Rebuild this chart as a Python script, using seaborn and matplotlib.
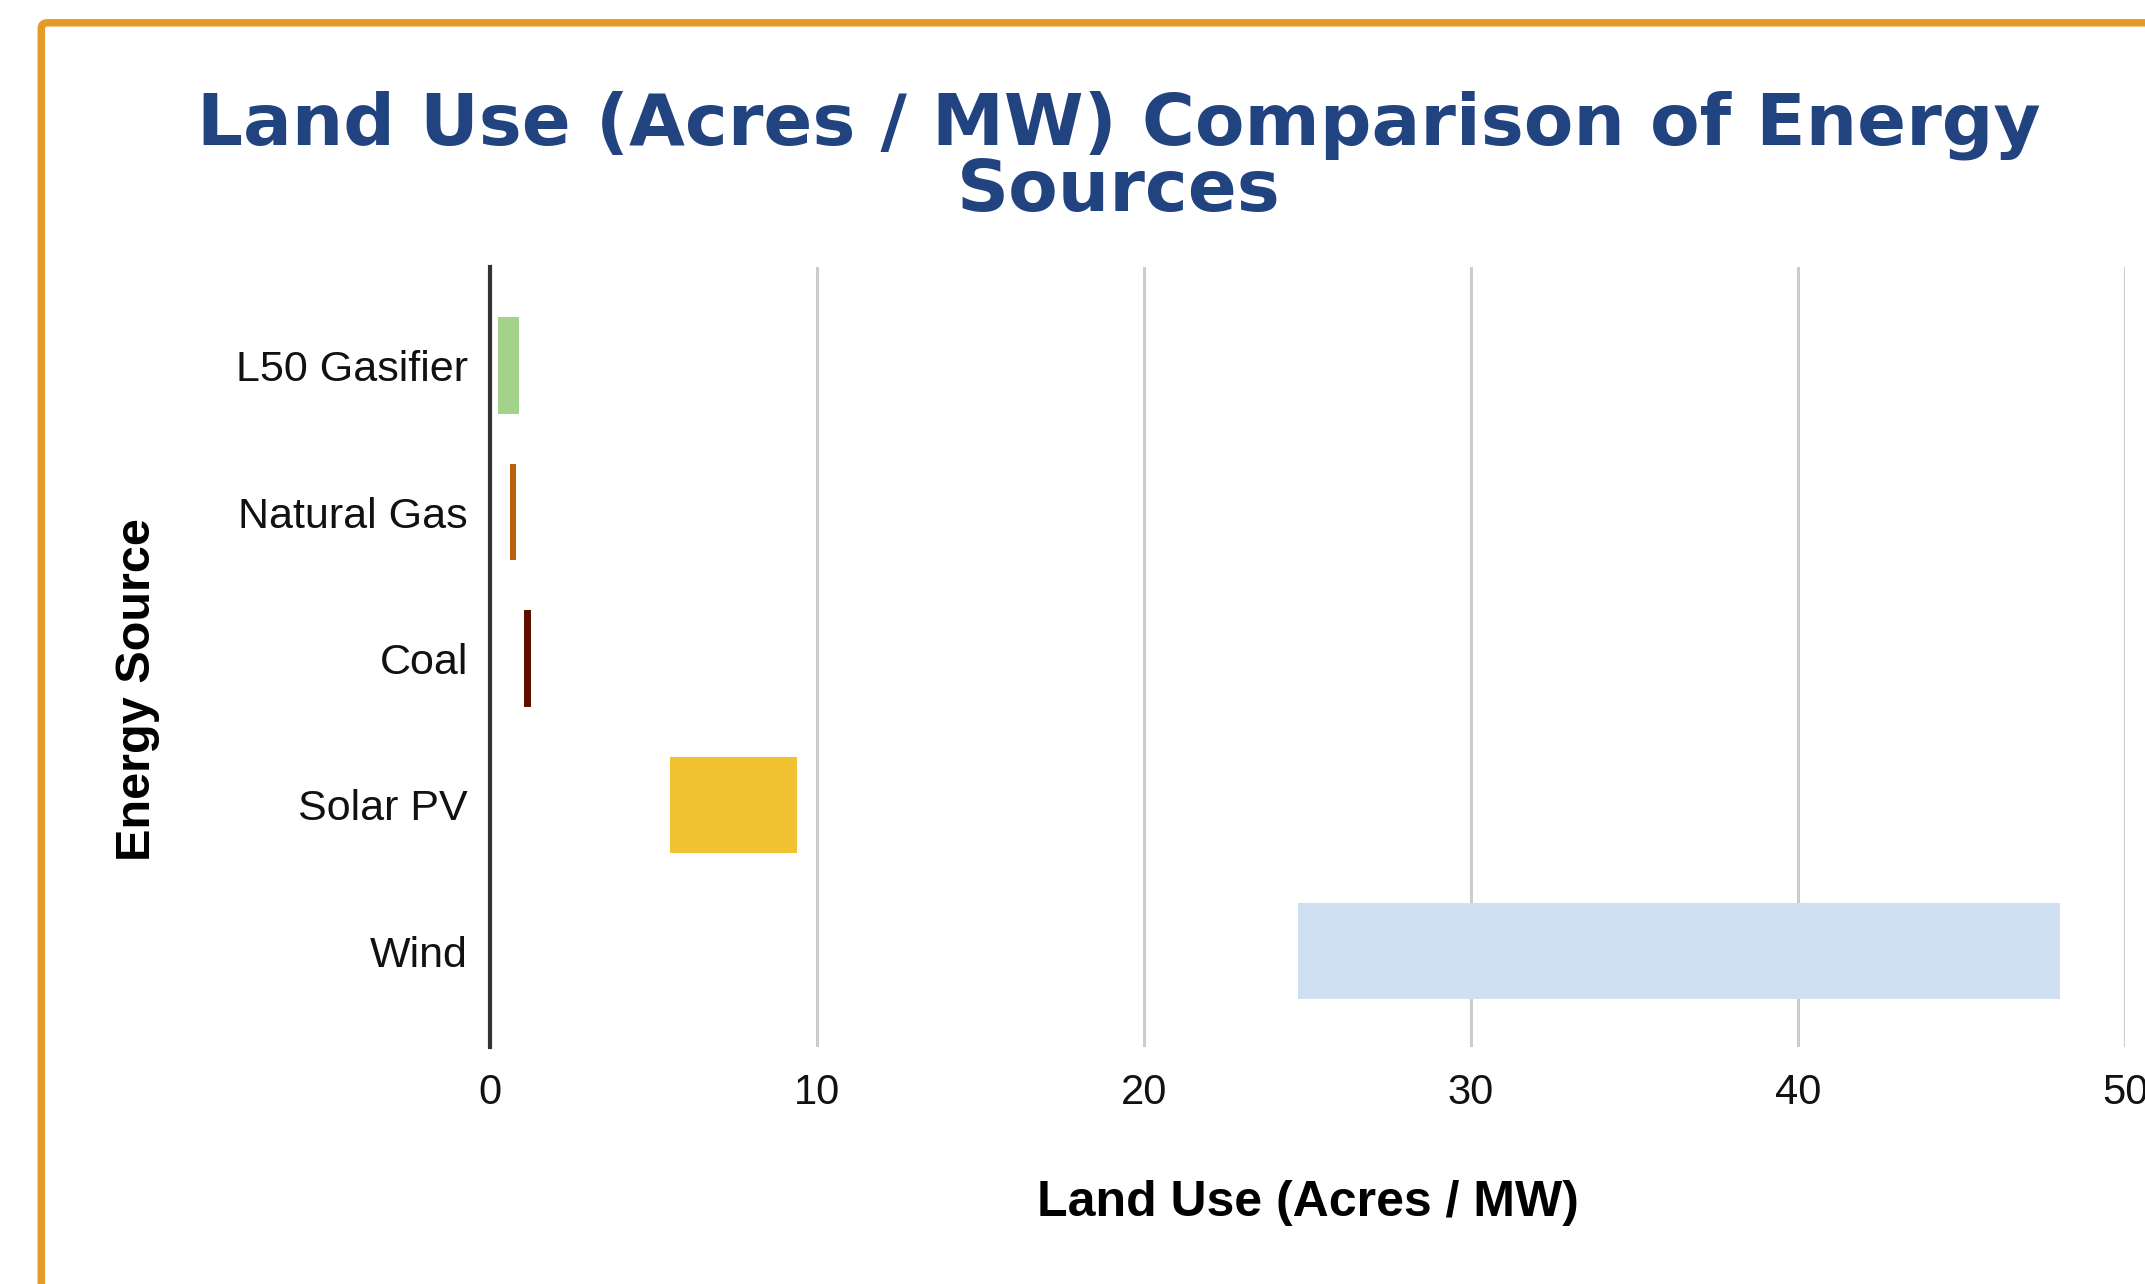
import numpy as np
import pandas as pd
import matplotlib
matplotlib.use('Agg')
import matplotlib.pyplot as plt
import seaborn as sns
from matplotlib.patches import FancyBboxPatch

# Land use ranges (acres / MW) per energy source
sources = ['L50 Gasifier', 'Natural Gas', 'Coal', 'Solar PV', 'Wind']
land_low = [0.25, 0.6, 1.05, 5.5, 24.7]
land_high = [0.9, 0.8, 1.25, 9.4, 48.0]
bar_colors = ['#A3D38A', '#B8610E', '#5C1000', '#F0C232', '#CFE0F2']
x_ticks = [0, 10, 20, 30, 40, 50]

sns.set_style('white')
plt.rcParams['font.family'] = ['Liberation Sans', 'DejaVu Sans']

fig = plt.figure(figsize=(21.45, 12.84), dpi=100)
ax = fig.add_axes([490 / 2145, 1 - 1047 / 1284, 1635 / 2145, 780 / 1284])

df = pd.DataFrame({'Energy Source': sources, 'Low': land_low, 'High': land_high})

# draw bars up to the high value, then shift their left edge to the low value
sns.barplot(data=df, x='High', y='Energy Source', hue='Energy Source',
            palette=bar_colors, saturation=1, width=0.66, legend=False, ax=ax)
for patch, lo, hi in zip(ax.patches, land_low, land_high):
    patch.set_x(lo)
    patch.set_width(hi - lo)
    patch.set_edgecolor('none')

ax.set_xlim(0, 50)
ax.set_ylim(len(sources) - 0.345, -0.675)
ax.set_xticks(x_ticks)
ax.xaxis.grid(True, color='#CCCCCC', linewidth=2.2)
ax.yaxis.grid(False)
ax.set_axisbelow(True)

for side in ['top', 'right', 'bottom']:
    ax.spines[side].set_visible(False)
ax.spines['left'].set_color('#333333')
ax.spines['left'].set_linewidth(3)
ax.spines['left'].set_zorder(5)

ax.tick_params(axis='x', length=0, pad=19, labelsize=30, labelcolor='#111111')
ax.tick_params(axis='y', length=0, pad=16, labelsize=31, labelcolor='#111111')

ax.set_xlabel('Land Use (Acres / MW)', fontsize=36, fontweight='bold', color='black')
ax.xaxis.set_label_coords(0.5, -0.17)
ax.set_ylabel('Energy Source', fontsize=35, fontweight='bold', color='black', va='center')
ax.yaxis.set_label_coords(-0.2153, 0.4577)

# two-line title
fig.text(0.5214, 1 - 144 / 1284, 'Land Use (Acres / MW) Comparison of Energy',
         ha='center', va='baseline', fontsize=52, fontweight='bold',
         color='#214380', family='DejaVu Sans')
fig.text(0.5214, 1 - 211 / 1284, 'Sources',
         ha='center', va='baseline', fontsize=52, fontweight='bold',
         color='#214380', family='DejaVu Sans')

# orange frame, running off the right and bottom edges
frame = FancyBboxPatch((0.413, -5), 30, 12.612 + 5,
                       boxstyle='round,pad=0,rounding_size=0.06',
                       transform=fig.dpi_scale_trans, fill=False,
                       edgecolor='#E69A28', linewidth=5.4, zorder=10)
fig.patches.append(frame)

fig.savefig('out.png', dpi=100, facecolor='white')
